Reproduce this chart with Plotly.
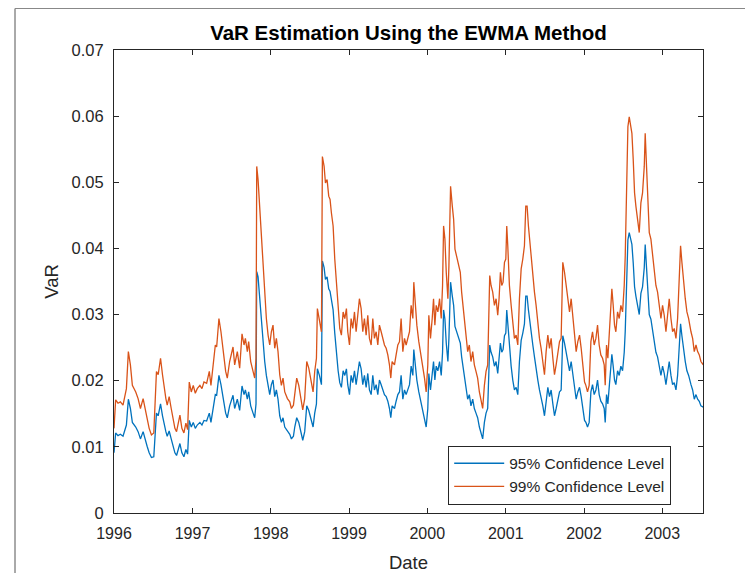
import datetime as dt
import plotly.graph_objects as go

# ---- data (decimal year, VaR values) ----
t_1996_97 = [
    1996.000, 1996.021, 1996.051, 1996.081, 1996.115, 1996.136, 1996.158, 1996.183, 1996.209, 1996.234,
    1996.277, 1996.307, 1996.337, 1996.371, 1996.392, 1996.422, 1996.448, 1996.477, 1996.507, 1996.529,
    1996.541, 1996.563, 1996.593, 1996.618, 1996.639, 1996.661, 1996.678, 1996.703, 1996.729, 1996.754,
    1996.776, 1996.797, 1996.840, 1996.865, 1996.891, 1996.916, 1996.938, 1996.959, 1996.985, 1997.010,
    1997.036, 1997.061, 1997.095, 1997.121, 1997.147, 1997.181, 1997.215, 1997.236, 1997.266, 1997.292,
    1997.309, 1997.338, 1997.364, 1997.394, 1997.424, 1997.445,
]
var99_1996_97 = [
    0.0128, 0.0171, 0.0166, 0.0168, 0.0163, 0.0173, 0.0188, 0.0244, 0.0224, 0.0193,
    0.0183, 0.0173, 0.0158, 0.0173, 0.0158, 0.0143, 0.0128, 0.0118, 0.0121, 0.0173,
    0.0214, 0.0209, 0.0234, 0.0209, 0.0188, 0.0173, 0.0163, 0.0176, 0.0158, 0.0143,
    0.0128, 0.0123, 0.0148, 0.0128, 0.0121, 0.0136, 0.0126, 0.0198, 0.0183, 0.0193,
    0.0181, 0.0188, 0.0193, 0.0188, 0.0198, 0.0196, 0.0214, 0.0193, 0.0224, 0.0254,
    0.0251, 0.0294, 0.0274, 0.0244, 0.0214, 0.0204,
]
var95_1996_97 = [
    0.0091, 0.0121, 0.0117, 0.0119, 0.0116, 0.0123, 0.0133, 0.0172, 0.0158, 0.0137,
    0.0130, 0.0123, 0.0112, 0.0123, 0.0112, 0.0101, 0.0091, 0.0084, 0.0085, 0.0123,
    0.0151, 0.0147, 0.0165, 0.0147, 0.0133, 0.0123, 0.0116, 0.0124, 0.0112, 0.0101,
    0.0091, 0.0087, 0.0105, 0.0091, 0.0085, 0.0096, 0.0089, 0.0140, 0.0130, 0.0137,
    0.0128, 0.0133, 0.0137, 0.0133, 0.0140, 0.0139, 0.0151, 0.0137, 0.0158, 0.0179,
    0.0178, 0.0208, 0.0194, 0.0172, 0.0151, 0.0144,
]

t_1997_98 = [
    1997.475, 1997.518, 1997.539, 1997.573, 1997.603, 1997.633, 1997.659, 1997.676, 1997.701, 1997.718,
    1997.744, 1997.774, 1997.795, 1997.812, 1997.821, 1997.838, 1997.859, 1997.880, 1997.902, 1997.923,
    1997.944, 1997.966, 1997.987, 1998.008, 1998.029, 1998.051, 1998.072, 1998.093, 1998.115, 1998.136,
    1998.157, 1998.179, 1998.213, 1998.243, 1998.264, 1998.290, 1998.307, 1998.332, 1998.358, 1998.383,
    1998.409, 1998.434, 1998.460, 1998.486, 1998.511, 1998.541, 1998.562, 1998.584, 1998.596, 1998.622,
    1998.648, 1998.660, 1998.682, 1998.699, 1998.720, 1998.741, 1998.758, 1998.775, 1998.797, 1998.818,
    1998.839, 1998.861, 1998.882, 1998.903, 1998.925, 1998.946, 1998.967,
]
var99_1997_98 = [
    0.0229, 0.0251, 0.0224, 0.0244, 0.0219, 0.0271, 0.0254, 0.0264, 0.0244, 0.0259,
    0.0229, 0.0214, 0.0204, 0.0234, 0.0524, 0.0504, 0.0459, 0.0414, 0.0364, 0.0324,
    0.0294, 0.0269, 0.0254, 0.0274, 0.0284, 0.0249, 0.0264, 0.0244, 0.0209, 0.0193,
    0.0204, 0.0183, 0.0173, 0.0168, 0.0158, 0.0163, 0.0183, 0.0204, 0.0193, 0.0173,
    0.0156, 0.0173, 0.0229, 0.0219, 0.0204, 0.0183, 0.0214, 0.0234, 0.0309, 0.0294,
    0.0274, 0.0539, 0.0524, 0.0499, 0.0504, 0.0479, 0.0474, 0.0454, 0.0434, 0.0384,
    0.0344, 0.0304, 0.0279, 0.0269, 0.0304, 0.0294, 0.0309,
]
var95_1997_98 = [
    0.0162, 0.0178, 0.0158, 0.0172, 0.0155, 0.0192, 0.0179, 0.0186, 0.0172, 0.0183,
    0.0162, 0.0151, 0.0144, 0.0165, 0.0365, 0.0357, 0.0325, 0.0293, 0.0257, 0.0229,
    0.0208, 0.0190, 0.0179, 0.0194, 0.0201, 0.0176, 0.0186, 0.0172, 0.0147, 0.0137,
    0.0144, 0.0130, 0.0123, 0.0119, 0.0112, 0.0116, 0.0130, 0.0144, 0.0137, 0.0123,
    0.0110, 0.0123, 0.0162, 0.0155, 0.0144, 0.0130, 0.0151, 0.0165, 0.0218, 0.0208,
    0.0194, 0.0381, 0.0371, 0.0353, 0.0357, 0.0339, 0.0335, 0.0321, 0.0307, 0.0272,
    0.0243, 0.0215, 0.0197, 0.0190, 0.0215, 0.0208, 0.0218,
]

t_1999_00 = [
    1998.984, 1999.006, 1999.027, 1999.048, 1999.070, 1999.091, 1999.112, 1999.133, 1999.155, 1999.176,
    1999.197, 1999.219, 1999.240, 1999.261, 1999.283, 1999.304, 1999.325, 1999.347, 1999.368, 1999.389,
    1999.411, 1999.432, 1999.453, 1999.475, 1999.496, 1999.517, 1999.534, 1999.551, 1999.581, 1999.602,
    1999.624, 1999.645, 1999.666, 1999.688, 1999.709, 1999.730, 1999.752, 1999.773, 1999.794, 1999.816,
    1999.828, 1999.845, 1999.867, 1999.892, 1999.918, 1999.943, 1999.965, 1999.986, 2000.007, 2000.020,
    2000.041, 2000.063, 2000.080, 2000.097, 2000.114, 2000.135, 2000.157, 2000.178, 2000.195, 2000.208,
    2000.225, 2000.242, 2000.263, 2000.276, 2000.297, 2000.319, 2000.336, 2000.353, 2000.378, 2000.400,
    2000.421, 2000.438, 2000.455, 2000.476,
]
var99_1999_00 = [
    0.0274, 0.0254, 0.0294, 0.0279, 0.0304, 0.0274, 0.0299, 0.0324, 0.0309, 0.0274,
    0.0294, 0.0269, 0.0299, 0.0264, 0.0254, 0.0294, 0.0264, 0.0274, 0.0254, 0.0284,
    0.0274, 0.0264, 0.0254, 0.0249, 0.0239, 0.0224, 0.0204, 0.0229, 0.0224, 0.0239,
    0.0254, 0.0259, 0.0294, 0.0244, 0.0264, 0.0254, 0.0264, 0.0274, 0.0314, 0.0294,
    0.0349, 0.0314, 0.0284, 0.0259, 0.0239, 0.0224, 0.0204, 0.0183, 0.0224, 0.0299,
    0.0264, 0.0294, 0.0324, 0.0284, 0.0314, 0.0304, 0.0324, 0.0294, 0.0344, 0.0434,
    0.0414, 0.0364, 0.0324, 0.0374, 0.0494, 0.0464, 0.0444, 0.0399, 0.0384, 0.0374,
    0.0364, 0.0334, 0.0314, 0.0294,
]
var95_1999_00 = [
    0.0194, 0.0179, 0.0208, 0.0197, 0.0215, 0.0194, 0.0211, 0.0229, 0.0218, 0.0194,
    0.0208, 0.0190, 0.0211, 0.0186, 0.0179, 0.0208, 0.0186, 0.0194, 0.0179, 0.0201,
    0.0194, 0.0186, 0.0179, 0.0176, 0.0169, 0.0158, 0.0144, 0.0162, 0.0158, 0.0169,
    0.0179, 0.0183, 0.0208, 0.0172, 0.0186, 0.0179, 0.0186, 0.0194, 0.0222, 0.0208,
    0.0247, 0.0222, 0.0201, 0.0183, 0.0169, 0.0158, 0.0144, 0.0130, 0.0158, 0.0211,
    0.0186, 0.0208, 0.0229, 0.0201, 0.0222, 0.0215, 0.0229, 0.0208, 0.0243, 0.0307,
    0.0293, 0.0257, 0.0229, 0.0264, 0.0349, 0.0328, 0.0314, 0.0282, 0.0272, 0.0264,
    0.0257, 0.0236, 0.0222, 0.0208,
]

t_2000_01 = [
    2000.493, 2000.515, 2000.536, 2000.557, 2000.579, 2000.600, 2000.621, 2000.642, 2000.664, 2000.685,
    2000.706, 2000.728, 2000.749, 2000.770, 2000.783, 2000.796, 2000.813, 2000.834, 2000.856, 2000.877,
    2000.898, 2000.915, 2000.932, 2000.949, 2000.966, 2000.984, 2001.001, 2001.013, 2001.026, 2001.047,
    2001.069, 2001.090, 2001.111, 2001.133, 2001.154, 2001.175, 2001.197, 2001.218, 2001.239, 2001.256,
    2001.273, 2001.290, 2001.307, 2001.325, 2001.346, 2001.367, 2001.388, 2001.410, 2001.431, 2001.452,
    2001.474, 2001.495, 2001.516, 2001.538, 2001.559, 2001.580, 2001.602, 2001.623, 2001.644, 2001.665,
    2001.687, 2001.708, 2001.729, 2001.751, 2001.772, 2001.793, 2001.815, 2001.836, 2001.857, 2001.879,
    2001.900, 2001.921, 2001.943, 2001.964, 2001.985, 2002.007,
]
var99_2000_01 = [
    0.0274, 0.0244, 0.0254, 0.0229, 0.0244, 0.0224, 0.0214, 0.0204, 0.0183, 0.0168,
    0.0158, 0.0193, 0.0214, 0.0224, 0.0314, 0.0359, 0.0344, 0.0334, 0.0314, 0.0324,
    0.0299, 0.0324, 0.0364, 0.0344, 0.0349, 0.0379, 0.0384, 0.0434, 0.0404, 0.0344,
    0.0314, 0.0284, 0.0264, 0.0269, 0.0254, 0.0324, 0.0369, 0.0384, 0.0404, 0.0464,
    0.0464, 0.0434, 0.0409, 0.0389, 0.0359, 0.0334, 0.0314, 0.0284, 0.0264, 0.0249,
    0.0229, 0.0209, 0.0244, 0.0269, 0.0249, 0.0264, 0.0234, 0.0209, 0.0224, 0.0244,
    0.0259, 0.0264, 0.0379, 0.0364, 0.0344, 0.0324, 0.0304, 0.0324, 0.0299, 0.0274,
    0.0244, 0.0259, 0.0269, 0.0249, 0.0224, 0.0198,
]
var95_2000_01 = [
    0.0194, 0.0172, 0.0179, 0.0162, 0.0172, 0.0158, 0.0151, 0.0144, 0.0130, 0.0119,
    0.0112, 0.0137, 0.0151, 0.0158, 0.0222, 0.0254, 0.0243, 0.0236, 0.0222, 0.0229,
    0.0211, 0.0229, 0.0257, 0.0243, 0.0247, 0.0268, 0.0272, 0.0307, 0.0286, 0.0243,
    0.0222, 0.0201, 0.0186, 0.0190, 0.0179, 0.0229, 0.0261, 0.0272, 0.0286, 0.0328,
    0.0328, 0.0307, 0.0289, 0.0275, 0.0254, 0.0236, 0.0222, 0.0201, 0.0186, 0.0176,
    0.0162, 0.0147, 0.0172, 0.0190, 0.0176, 0.0186, 0.0165, 0.0147, 0.0158, 0.0172,
    0.0183, 0.0186, 0.0268, 0.0257, 0.0243, 0.0229, 0.0215, 0.0229, 0.0211, 0.0194,
    0.0172, 0.0183, 0.0190, 0.0176, 0.0158, 0.0140,
]

t_2002_03 = [
    2002.024, 2002.045, 2002.066, 2002.088, 2002.109, 2002.130, 2002.152, 2002.173, 2002.194, 2002.215,
    2002.237, 2002.258, 2002.271, 2002.288, 2002.305, 2002.322, 2002.343, 2002.356, 2002.373, 2002.390,
    2002.407, 2002.429, 2002.450, 2002.471, 2002.493, 2002.514, 2002.527, 2002.544, 2002.561, 2002.578,
    2002.595, 2002.612, 2002.629, 2002.646, 2002.663, 2002.684, 2002.706, 2002.727, 2002.748, 2002.770,
    2002.782, 2002.799, 2002.817, 2002.834, 2002.855, 2002.876, 2002.898, 2002.919, 2002.940, 2002.962,
    2002.983, 2003.004, 2003.025, 2003.047, 2003.068, 2003.089, 2003.111, 2003.132, 2003.153, 2003.175,
    2003.196, 2003.217, 2003.234, 2003.251, 2003.273, 2003.294, 2003.315, 2003.337, 2003.367, 2003.388,
    2003.409, 2003.431, 2003.452, 2003.473, 2003.494, 2003.524,
]
var99_2002_03 = [
    0.0193, 0.0183, 0.0193, 0.0259, 0.0274, 0.0254, 0.0264, 0.0284, 0.0254, 0.0239,
    0.0234, 0.0224, 0.0193, 0.0254, 0.0234, 0.0274, 0.0304, 0.0339, 0.0314, 0.0284,
    0.0274, 0.0304, 0.0294, 0.0314, 0.0304, 0.0344, 0.0389, 0.0499, 0.0584, 0.0599,
    0.0589, 0.0574, 0.0534, 0.0484, 0.0464, 0.0444, 0.0424, 0.0469, 0.0484, 0.0524,
    0.0574, 0.0524, 0.0459, 0.0424, 0.0414, 0.0389, 0.0364, 0.0344, 0.0334, 0.0314,
    0.0294, 0.0314, 0.0299, 0.0274, 0.0304, 0.0324, 0.0294, 0.0274, 0.0279, 0.0264,
    0.0294, 0.0344, 0.0404, 0.0379, 0.0344, 0.0324, 0.0304, 0.0294, 0.0274, 0.0264,
    0.0244, 0.0254, 0.0244, 0.0239, 0.0229, 0.0224,
]
var95_2002_03 = [
    0.0137, 0.0130, 0.0137, 0.0183, 0.0194, 0.0179, 0.0186, 0.0201, 0.0179, 0.0169,
    0.0165, 0.0158, 0.0137, 0.0179, 0.0165, 0.0194, 0.0215, 0.0240, 0.0222, 0.0201,
    0.0194, 0.0215, 0.0208, 0.0222, 0.0215, 0.0243, 0.0275, 0.0353, 0.0413, 0.0424,
    0.0417, 0.0406, 0.0378, 0.0342, 0.0328, 0.0314, 0.0300, 0.0332, 0.0342, 0.0371,
    0.0406, 0.0371, 0.0325, 0.0300, 0.0293, 0.0275, 0.0257, 0.0243, 0.0236, 0.0222,
    0.0208, 0.0222, 0.0211, 0.0194, 0.0215, 0.0229, 0.0208, 0.0194, 0.0197, 0.0186,
    0.0208, 0.0243, 0.0286, 0.0268, 0.0243, 0.0229, 0.0215, 0.0208, 0.0194, 0.0186,
    0.0172, 0.0179, 0.0172, 0.0169, 0.0162, 0.0160,
]

year_ticks = [1996, 1997, 1998, 1999, 2000, 2001, 2002, 2003]
y_ticks = [0, 0.01, 0.02, 0.03, 0.04, 0.05, 0.06, 0.07]
y_tick_text = ["0", "0.01", "0.02", "0.03", "0.04", "0.05", "0.06", "0.07"]
x_range = ["1996-01-01", "2003-07-10"]

t_all = t_1996_97 + t_1997_98 + t_1999_00 + t_2000_01 + t_2002_03
var95 = var95_1996_97 + var95_1997_98 + var95_1999_00 + var95_2000_01 + var95_2002_03
var99 = var99_1996_97 + var99_1997_98 + var99_1999_00 + var99_2000_01 + var99_2002_03


def to_date(t):
    y = int(t)
    a = dt.datetime(y, 1, 1)
    b = dt.datetime(y + 1, 1, 1)
    return (a + (b - a) * (t - y)).strftime("%Y-%m-%d %H:%M")


dates = [to_date(t) for t in t_all]

FONT = "Liberation Sans, Arial, Helvetica, sans-serif"
AX = "#262626"

# The page adds an 8px body margin, so the figure is 8px smaller and shifted.
W, H = 745, 565
ML, MT = 106, 42
PW, PH = 589, 463

fig = go.Figure()
fig.add_trace(go.Scatter(x=dates, y=var95, mode="lines", name="95% Confidence Level",
                         line=dict(color="#0072BD", width=1.3)))
fig.add_trace(go.Scatter(x=dates, y=var99, mode="lines", name="99% Confidence Level",
                         line=dict(color="#D95319", width=1.3)))

fig.update_layout(
    width=W, height=H,
    margin=dict(l=ML, r=W - ML - PW, t=MT, b=H - MT - PH, autoexpand=False),
    paper_bgcolor="white", plot_bgcolor="white",
    font=dict(family=FONT, color=AX, size=16),
    title=dict(text="<b>VaR Estimation Using the EWMA Method</b>", x=0.5, xref="paper",
               y=1 - 25 / H, yref="container", yanchor="middle", xanchor="center",
               font=dict(size=20.5, color="#000000", family=FONT)),
    showlegend=True,
    legend=dict(x=0.946, y=0.018, xanchor="right", yanchor="bottom",
                bgcolor="white", bordercolor=AX, borderwidth=1, itemwidth=50,
                font=dict(size=15.5, color=AX, family=FONT), tracegroupgap=0),
)
fig.update_xaxes(
    type="date", range=x_range,
    tickvals=[f"{y}-01-01" for y in year_ticks], ticktext=[str(y) for y in year_ticks],
    showline=True, linecolor=AX, linewidth=1, mirror="ticks",
    ticks="inside", ticklen=5, tickcolor=AX, tickwidth=1,
    showgrid=False, zeroline=False, ticklabelstandoff=6,
    tickfont=dict(size=16, color=AX),
    title=dict(text="Date", font=dict(size=18.5, color=AX), standoff=14),
)
fig.update_yaxes(
    range=[0, 0.07], tickvals=y_ticks, ticktext=y_tick_text,
    showline=True, linecolor=AX, linewidth=1, mirror="ticks",
    ticks="inside", ticklen=5, tickcolor=AX, tickwidth=1,
    showgrid=False, zeroline=False, ticklabelstandoff=6,
    tickfont=dict(size=16.5, color=AX),
    title=dict(text="VaR", font=dict(size=18.5, color=AX), standoff=8),
)

# outer window frame lines visible in the reference screenshot
xl = (7 - ML) / PW
ytop = (MT + PH - 0.5) / PH
fig.add_shape(type="line", xref="paper", yref="paper",
              x0=xl, x1=xl, y0=(MT + PH - H) / PH, y1=ytop,
              line=dict(color="#555555", width=1))
fig.add_shape(type="line", xref="paper", yref="paper",
              x0=xl, x1=(W - ML) / PW, y0=ytop, y1=ytop,
              line=dict(color="#888888", width=1))

fig.write_html("out.html")
